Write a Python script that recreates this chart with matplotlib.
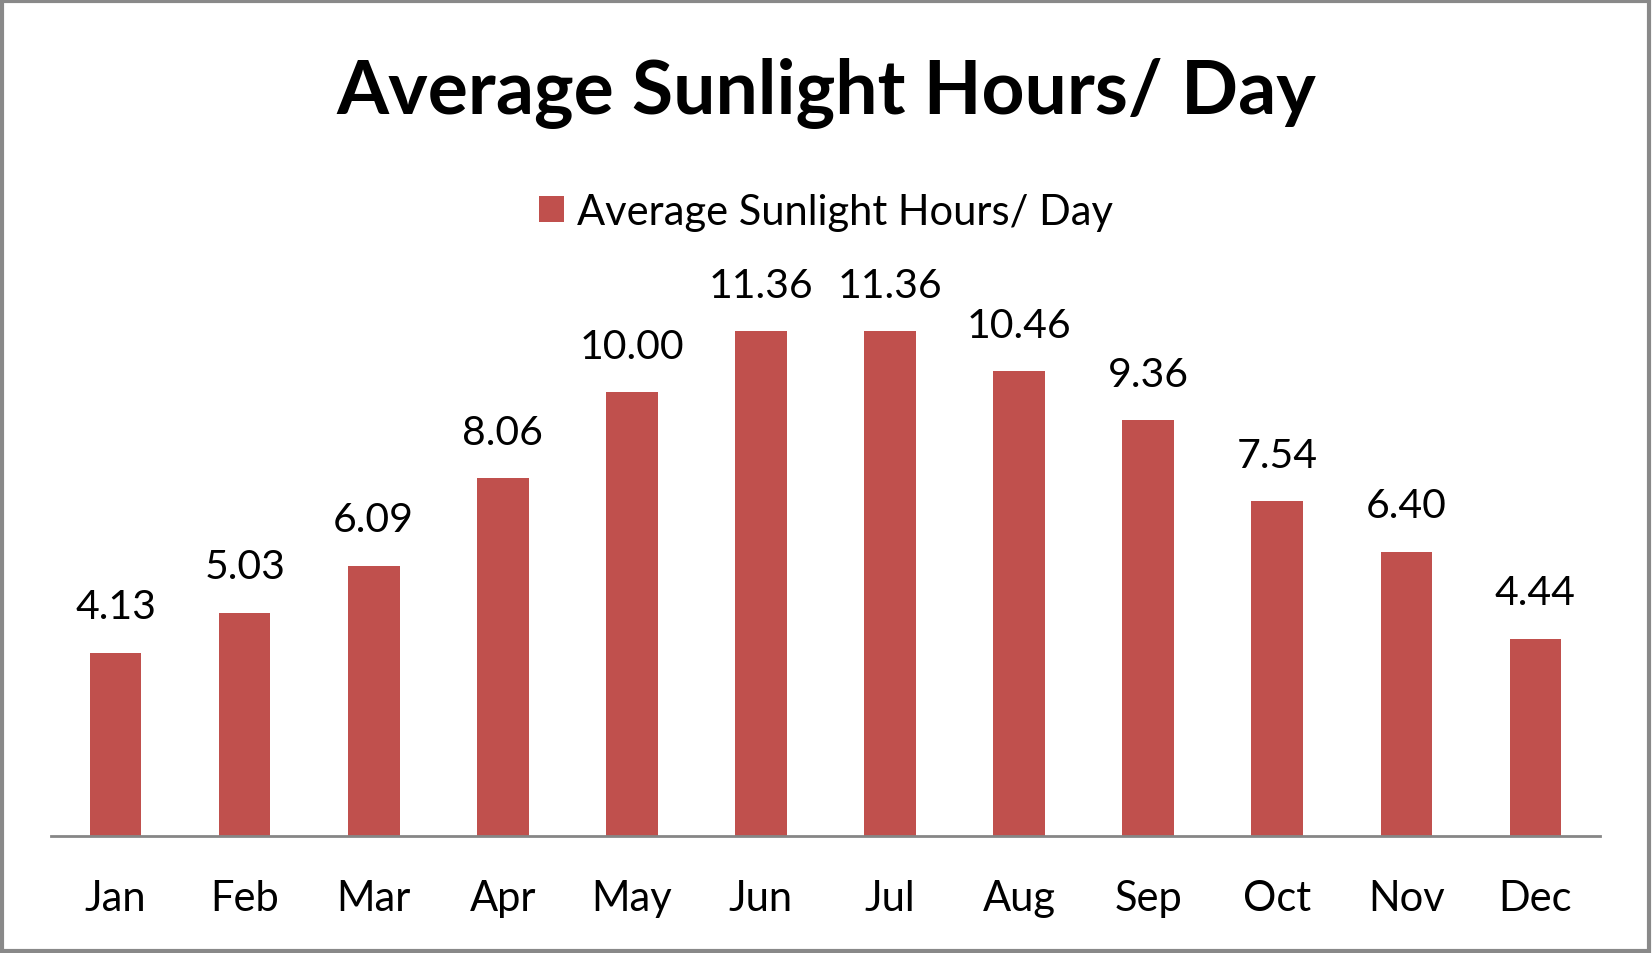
import matplotlib
matplotlib.use("Agg")
from matplotlib import pyplot as plt
from matplotlib.patches import Rectangle

months = ["Jan", "Feb", "Mar", "Apr", "May", "Jun", "Jul", "Aug", "Sep", "Oct", "Nov", "Dec"]
sunlight_hours = [4.13, 5.03, 6.09, 8.06, 10.00, 11.36, 11.36, 10.46, 9.36, 7.54, 6.40, 4.44]
series_name = "Average Sunlight Hours/ Day"

plt.rcParams["font.family"] = ["Lato", "DejaVu Sans"]

fig = plt.figure(figsize=(16.52, 9.54), dpi=100)
ax = fig.add_axes([0.0309, 0.1226, 0.9376, 0.5587])

x = range(len(months))
bars = ax.bar(x, sunlight_hours, width=0.40, color="#C0504D", label=series_name, zorder=2)

# value labels above each bar
for xi, v in zip(x, sunlight_hours):
    ax.annotate(f"{v:.2f}", (xi, v), xytext=(0, 33), textcoords="offset points",
                ha="center", va="center", fontsize=29.5, annotation_clip=False)

ax.set_xlim(-0.5, len(months) - 0.5)
ax.set_ylim(0, 12)
ax.set_xticks(list(x))
ax.set_xticklabels(months, fontsize=30)
ax.tick_params(axis="x", length=0, pad=31)
ax.set_yticks([])
for side in ["left", "right", "top"]:
    ax.spines[side].set_visible(False)
ax.spines["bottom"].set_color("#868686")
ax.spines["bottom"].set_linewidth(2)

fig.text(0.5, 0.902, series_name, ha="center", va="center", fontsize=54, fontweight="bold")

handles, labels = ax.get_legend_handles_labels()
fig.legend(handles, labels, loc="center", bbox_to_anchor=(0.5, 0.777), frameon=False,
           fontsize=30, handlelength=0.6, handleheight=0.6, handletextpad=0.3)

# outer chart border
fig.patches.append(Rectangle((0.001, 0.002), 0.997, 0.996, transform=fig.transFigure,
                             fill=False, edgecolor="#898989", linewidth=3))

fig.savefig("out.png", dpi=100)
plt.close(fig)
